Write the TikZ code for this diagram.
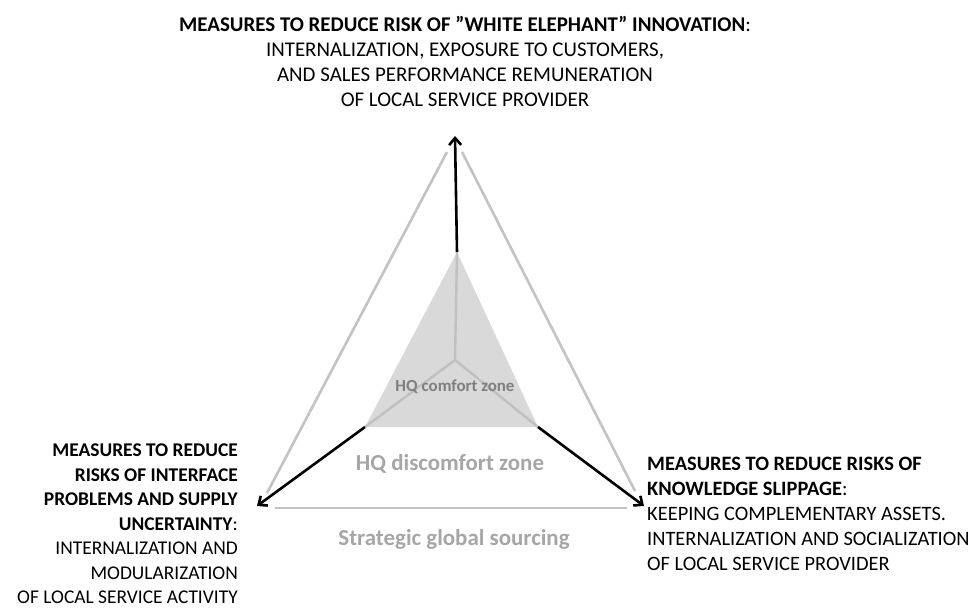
\documentclass[tikz,border=0pt]{standalone}
\usepackage{fontspec}
\setmainfont{Carlito}
\usetikzlibrary{arrows.meta}
\definecolor{lgray}{HTML}{C3C3C3}
\definecolor{fillgray}{HTML}{D9D9D9}
\definecolor{spoke}{HTML}{C0C0C0}
\definecolor{dgray}{HTML}{7F7F7F}
\definecolor{mgray}{HTML}{A6A6A6}
\tikzset{
  outerline/.style={lgray, line width=2.6bp},
  arrowline/.style={black, line width=2.6bp, -{Straight Barb[length=7bp,width=12bp,line width=2.6bp]}},
  spokeline/.style={spoke, line width=2.4bp},
  txt/.style={font=\fontsize{21}{25}\selectfont, inner sep=0pt},
  txtright/.style={font=\fontsize{20.5}{25}\selectfont, inner sep=0pt},
  txtsmall/.style={font=\fontsize{19.5}{24.6}\selectfont, inner sep=0pt},
}
\begin{document}
\begin{tikzpicture}[x={(1bp,0)}, y={(0,-1bp)}]
\useasboundingbox (0,0) rectangle (976,609);
% inner comfort zone
\fill[fillgray] (457,252) -- (365,427) -- (538,427) -- cycle;
\coordinate (c) at (455,360);
\coordinate (it) at (457,252);
\coordinate (il) at (365,427);
\coordinate (ir) at (538,427);
\draw[spokeline] (c) -- (it);
\draw[spokeline] (c) -- (il);
\draw[spokeline] (c) -- (ir);
% outer triangle sides
\coordinate (ol1) at (447,152);
\coordinate (ol2) at (267,493);
\coordinate (or1) at (462,152);
\coordinate (or2) at (635,491);
\coordinate (ob1) at (275,508);
\coordinate (ob2) at (627,508);
\draw[outerline] (ol1) -- (ol2);
\draw[outerline] (or1) -- (or2);
\draw[outerline] (ob1) -- (ob2);
% arrows
\coordinate (at) at (455,136);
\coordinate (al) at (257,506);
\coordinate (ar) at (644,506);
\draw[arrowline] (it) -- (at);
\draw[arrowline] (il) -- (al);
\draw[arrowline] (ir) -- (ar);
% zone labels
\node[font=\fontsize{17}{19}\selectfont\bfseries, text=dgray, anchor=base, inner sep=0pt] (hqc) at (455,391) {HQ comfort zone};
\node[font=\fontsize{23}{26}\selectfont\bfseries, text=mgray, anchor=base, inner sep=0pt] (hqd) at (450,470) {HQ discomfort zone};
\node[font=\fontsize{23}{26}\selectfont\bfseries, text=mgray, anchor=base, inner sep=0pt] (sgs) at (454,545) {Strategic global sourcing};
% text blocks
\node[txt, align=center, anchor=north] (top) at (465,16) {\textbf{MEASURES TO REDUCE RISK OF ”WHITE ELEPHANT” INNOVATION}:\\
INTERNALIZATION, EXPOSURE TO CUSTOMERS,\\
AND SALES PERFORMANCE REMUNERATION\\
OF LOCAL SERVICE PROVIDER};
\node[txtsmall, align=right, anchor=north east] (left) at (238,444) {\textbf{MEASURES TO REDUCE}\\
\textbf{RISKS OF INTERFACE}\\
\textbf{PROBLEMS AND SUPPLY}\\
\textbf{UNCERTAINTY}:\\
INTERNALIZATION AND\\
MODULARIZATION\\
OF LOCAL SERVICE ACTIVITY};
\node[txtright, align=left, anchor=north west] (right) at (647,457) {\textbf{MEASURES TO REDUCE RISKS OF}\\
\textbf{KNOWLEDGE SLIPPAGE}:\\
KEEPING COMPLEMENTARY ASSETS.\\
INTERNALIZATION AND SOCIALIZATION\\
OF LOCAL SERVICE PROVIDER};
\end{tikzpicture}
\end{document}
